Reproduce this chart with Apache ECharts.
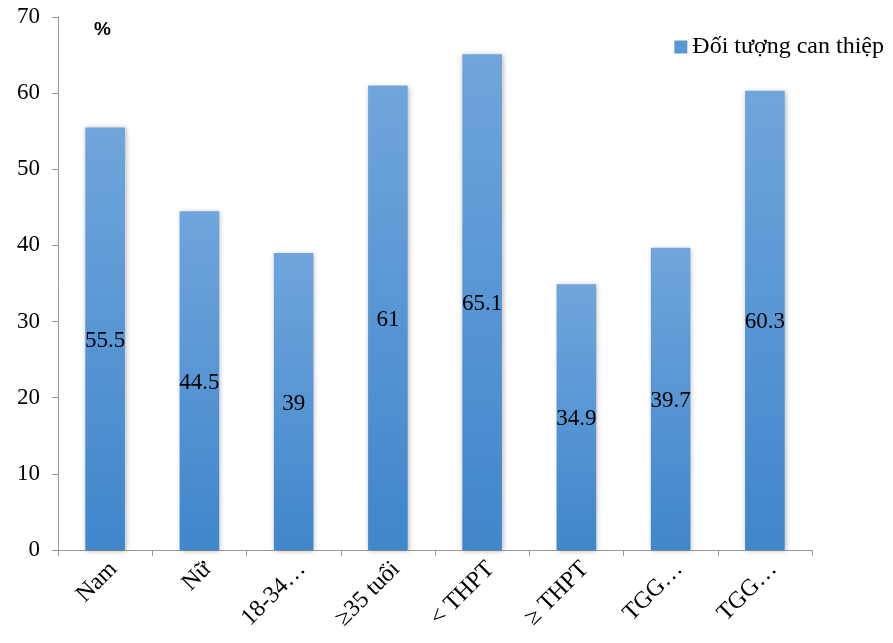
<!DOCTYPE html>
<html>
<head>
<meta charset="utf-8">
<script src="https://cdn.jsdelivr.net/npm/echarts@6/dist/echarts.min.js"></script>
<style>html,body{margin:0;padding:0;background:#fff}#c{width:893px;height:643px}</style>
</head>
<body>
<div id="c"></div>
<script>
const categories = ['Nam', 'Nữ', '18-34…', '≥35 tuổi', '< THPT', '≥ THPT', 'TGG…', 'TGG…'];
const values = [55.5, 44.5, 39, 61, 65.1, 34.9, 39.7, 60.3];
const seriesName = 'Đối tượng can thiệp';
const yTicks = {min: 0, max: 70, interval: 10};

const chart = echarts.init(document.getElementById('c'));
const serif = '"Liberation Serif", "DejaVu Serif", serif';
chart.setOption({
  animation: false,
  backgroundColor: '#fff',
  grid: {left: 58, right: 81, top: 17, bottom: 93, containLabel: false},
  legend: {
    right: 4, top: 30, itemWidth: 13, itemHeight: 13, itemGap: 6,
    icon: 'rect',
    textStyle: {fontFamily: serif, fontSize: 24, color: '#000'},
    data: [{name: seriesName, itemStyle: {color: '#5b96d6'}}]
  },
  graphic: [{type: 'text', left: 94, top: 20, style: {text: '%', font: 'bold 19px "Liberation Sans", Arial, sans-serif', fill: '#000'}}],
  xAxis: {
    type: 'category', data: categories,
    axisLine: {lineStyle: {color: '#999', width: 1}},
    axisTick: {show: true, alignWithLabel: false, length: 6, lineStyle: {color: '#999'}},
    axisLabel: {rotate: 45, fontFamily: serif, fontSize: 24, color: '#000', margin: 7, verticalAlign: 'top', interval: 0}
  },
  yAxis: {
    type: 'value', min: yTicks.min, max: yTicks.max, interval: yTicks.interval,
    axisLine: {show: true, lineStyle: {color: '#999'}},
    axisTick: {show: true, length: 6, lineStyle: {color: '#999'}},
    splitLine: {show: false},
    axisLabel: {fontFamily: serif, fontSize: 23, color: '#000', margin: 18}
  },
  series: [{
    name: seriesName, type: 'bar', data: values, barWidth: '42%',
    itemStyle: {
      color: new echarts.graphic.LinearGradient(0, 0, 0, 1, [
        {offset: 0, color: '#70a5dc'}, {offset: 1, color: '#3f86cb'}
      ]),
      shadowColor: 'rgba(0,0,0,0.3)', shadowBlur: 5, shadowOffsetX: 1, shadowOffsetY: 1
    },
    label: {show: true, position: 'inside', fontFamily: serif, fontSize: 23, color: '#000', offset: [0, 2]}
  }]
});
</script>
</body>
</html>
